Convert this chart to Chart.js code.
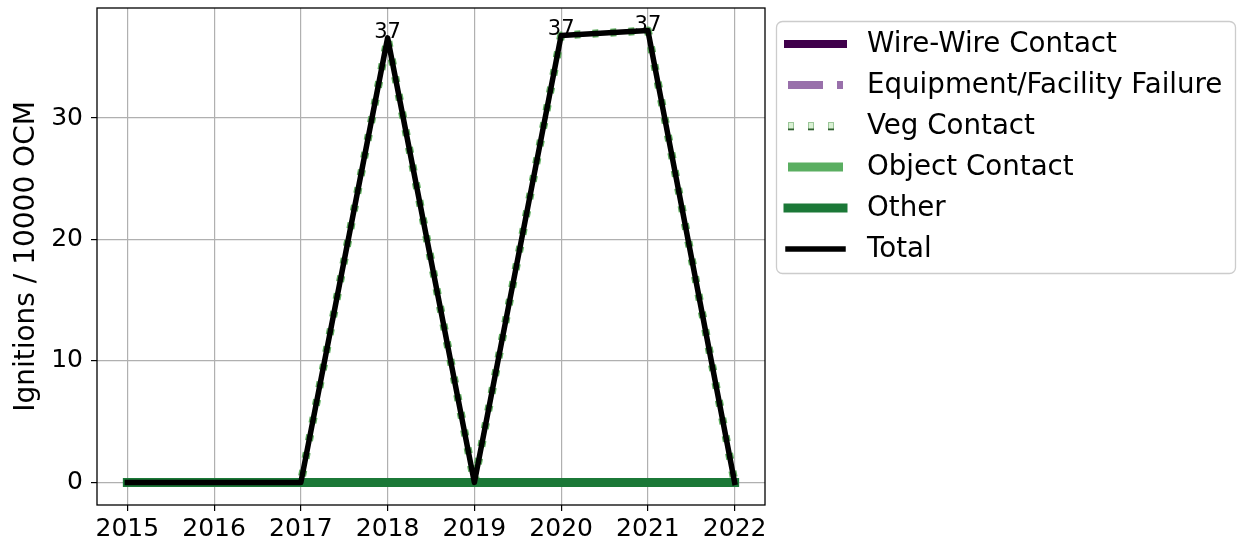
<!DOCTYPE html>
<html>
<head>
<meta charset="utf-8">
<script src="https://cdn.jsdelivr.net/npm/chart.js@4.4.1/dist/chart.umd.min.js"></script>
<style>
  html, body { margin: 0; padding: 0; background: #ffffff; }
  canvas { display: block; }
</style>
</head>
<body>
<canvas id="chart" width="1238" height="543"></canvas>
<script>
// Ignition rates per year, by cause
const years         = [2015, 2016, 2017, 2018, 2019, 2020, 2021, 2022];
const wireWire      = [0, 0, 0, 0, 0, 0, 0, 0];
const equipment     = [0, 0, 0, 0, 0, 0, 0, 0];
const vegContact    = [0, 0, 0, 36.6, 0, 36.8, 37.2, 0];
const objectContact = [0, 0, 0, 0, 0, 0, 0, 0];
const otherCause    = [0, 0, 0, 0, 0, 0, 0, 0];
const total         = [0, 0, 0, 36.6, 0, 36.8, 37.2, 0];
const yTickValues   = [0, 10, 20, 30];

const FONT = '"DejaVu Sans", "Liberation Sans", sans-serif';

const toPoints = arr => years.map((yr, i) => ({ x: yr, y: arr[i] }));

const seriesDefs = [
  { label: 'Wire-Wire Contact', data: wireWire, color: '#40004b', width: 8, dash: [], cap: 'square' },
  { label: 'Equipment/Facility Failure', data: equipment, color: '#9970ab', width: 8, dash: [35, 14, 6, 14], cap: 'butt' },
  { label: 'Veg Contact', data: vegContact, color: '#5fae5f', width: 8, dash: [6, 12], cap: 'butt',
    legendFill: '#d9f0d3', legendEdge: '#2f5f2f' },
  { label: 'Object Contact', data: objectContact, color: '#5aae61', width: 9, dash: [], cap: 'butt' },
  { label: 'Other', data: otherCause, color: '#1b7837', width: 9, dash: [], cap: 'square' },
  { label: 'Total', data: total, color: '#000000', width: 5.5, dash: [], cap: 'square' }
];

const datasets = seriesDefs.map((s, i) => ({
  label: s.label,
  data: toPoints(s.data),
  borderColor: s.color,
  backgroundColor: s.color,
  borderWidth: s.width,
  borderDash: s.dash,
  borderCapStyle: s.cap,
  borderJoinStyle: 'round',
  pointRadius: 0,
  pointHoverRadius: 0,
  tension: 0,
  fill: false,
  order: seriesDefs.length - 1 - i,
  legendFill: s.legendFill,
  legendEdge: s.legendEdge
}));

// Axes frame on all four sides, drawn above the lines
const framePlugin = {
  id: 'frame',
  afterDatasetsDraw(chart) {
    const { ctx, chartArea: a } = chart;
    ctx.save();
    ctx.strokeStyle = '#000000';
    ctx.lineWidth = 1.3;
    ctx.strokeRect(a.left, a.top, a.right - a.left, a.bottom - a.top);
    ctx.restore();
  }
};

// Value labels above the non-zero points of the Total line
const valueLabelPlugin = {
  id: 'valueLabels',
  afterDatasetsDraw(chart) {
    const ctx = chart.ctx;
    const idx = chart.data.datasets.findIndex(d => d.label === 'Total');
    const meta = chart.getDatasetMeta(idx);
    ctx.save();
    ctx.font = '21px ' + FONT;
    ctx.fillStyle = '#000000';
    ctx.textAlign = 'center';
    ctx.textBaseline = 'alphabetic';
    meta.data.forEach((pt, i) => {
      const v = total[i];
      if (v > 0) ctx.fillText(String(Math.round(v)), pt.x, pt.y);
    });
    ctx.restore();
  }
};

// Framed legend to the right of the plot
const sideLegendPlugin = {
  id: 'sideLegend',
  afterDraw(chart) {
    const ctx = chart.ctx;
    const box = { x: 776.5, y: 21.5, w: 459, h: 252, r: 6 };
    ctx.save();
    ctx.beginPath();
    ctx.roundRect(box.x, box.y, box.w, box.h, box.r);
    ctx.fillStyle = 'rgba(255,255,255,0.8)';
    ctx.fill();
    ctx.strokeStyle = '#cccccc';
    ctx.lineWidth = 1.3;
    ctx.stroke();

    const x0 = 788, x1 = 843, textX = 867;
    chart.data.datasets.forEach((ds, i) => {
      const cy = 44 + i * 41;
      if (ds.legendFill) {
        for (let sx = x0; sx + 5 <= x1; sx += 20) {
          ctx.fillStyle = ds.legendFill;
          ctx.fillRect(sx, cy - 4, 6, 8);
          ctx.strokeStyle = '#9cc79a';
          ctx.lineWidth = 1;
          ctx.strokeRect(sx + 0.5, cy - 3.5, 5, 7);
          ctx.fillStyle = ds.legendEdge;
          ctx.fillRect(sx, cy + 2.5, 6, 1.8);
        }
      } else {
        ctx.beginPath();
        ctx.setLineDash(ds.borderDash || []);
        ctx.lineCap = ds.borderCapStyle;
        ctx.strokeStyle = ds.borderColor;
        ctx.lineWidth = ds.borderWidth;
        ctx.moveTo(x0, cy);
        ctx.lineTo(x1, cy);
        ctx.stroke();
        ctx.setLineDash([]);
      }
      ctx.fillStyle = '#000000';
      ctx.font = '27.7px ' + FONT;
      ctx.textAlign = 'left';
      ctx.textBaseline = 'middle';
      ctx.fillText(ds.label, textX, cy + 1);
    });
    ctx.restore();
  }
};

const dropScalePadding = s => {
  s.paddingTop = 0;
  s.paddingBottom = 0;
  s.paddingLeft = 0;
  s.paddingRight = 0;
};

new Chart(document.getElementById('chart'), {
  type: 'line',
  data: { datasets },
  options: {
    responsive: false,
    animation: false,
    events: [],
    layout: { padding: { top: 8, right: 473, left: 0, bottom: 0 } },
    plugins: {
      legend: { display: false },
      tooltip: { enabled: false }
    },
    scales: {
      x: {
        type: 'linear',
        min: 2014.65,
        max: 2022.35,
        afterBuildTicks: s => { s.ticks = years.map(v => ({ value: v })); },
        afterFit: s => { s.height = 38; dropScalePadding(s); },
        ticks: {
          callback: v => String(v),
          color: '#000000',
          font: { family: FONT, size: 25 },
          padding: 3,
          maxRotation: 0,
          autoSkip: false
        },
        grid: { color: '#b0b0b0', lineWidth: 1.2, tickColor: '#000000', tickLength: 6, drawTicks: true },
        border: { display: false }
      },
      y: {
        type: 'linear',
        min: -1.86,
        max: 39.06,
        afterBuildTicks: s => { s.ticks = yTickValues.map(v => ({ value: v })); },
        afterFit: s => { s.width = 97; dropScalePadding(s); },
        ticks: {
          callback: v => String(v),
          color: '#000000',
          font: { family: FONT, size: 25 },
          padding: 8
        },
        grid: { color: '#b0b0b0', lineWidth: 1.2, tickColor: '#000000', tickLength: 6, drawTicks: true },
        border: { display: false },
        title: {
          display: true,
          text: 'Ignitions / 10000 OCM',
          color: '#000000',
          font: { family: FONT, size: 28 },
          padding: { top: 10, bottom: 0 }
        }
      }
    }
  },
  plugins: [framePlugin, valueLabelPlugin, sideLegendPlugin]
});
</script>
</body>
</html>
